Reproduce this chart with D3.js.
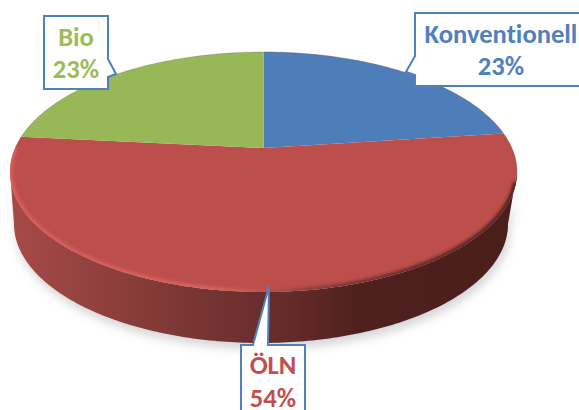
<!DOCTYPE html>
<html><head><meta charset="utf-8">
<script src="https://cdn.jsdelivr.net/npm/d3@7"></script>
<style>html,body{margin:0;padding:0;background:#fff}svg{display:block}
text{font-family:Carlito,Lato,"Open Sans","Noto Sans",sans-serif;font-weight:700;text-anchor:middle;font-variant-ligatures:none}</style>
</head><body><svg id="c" width="579" height="410"></svg>
<script>
const categories = ["Konventionell","ÖLN","Bio"];
const values = [22.9,53.6,23.4];
const labels = ["23%","54%","23%"];
const colors = ["#4f81bd","#c0504d","#9bbb59"];

const svg = d3.select("#c");
const defs = svg.append("defs");
const sx = d3.scaleLinear().domain([-1,1]).range([10,517]);
const sy = d3.scaleLinear().domain([-1,1]).range([52,292]);
const k = 0.2, q = Math.sqrt(1-k*k);
const proj = (a,r=1)=>{const u=r*Math.sin(a),v=-r*Math.cos(a),w=1-k*v;return [sx(u*q/w),sy((v-k)/w)];};
const line = d3.line();
const arcs = d3.pie().sort(null).value(d=>d)(values);
const wedge = d=>{const n=90,pts=d3.range(n+1).map(i=>proj(d.startAngle+(d.endAngle-d.startAngle)*i/n));return line([proj(0,0),...pts])+"Z";};
const rad = Math.PI/180;
const ellipse = (from,to,fx,fy)=>d3.range(from,to+1).map(i=>[fx(Math.cos(i*rad)),fy(Math.sin(i*rad))]);

const sbx = d3.scaleLinear().domain([-1,1]).range([14,508]);
const sby = d3.scaleLinear().domain([-1,1]).range([105,343]);
const sidePath = line([...ellipse(0,180,sx,sy).reverse(),...ellipse(0,180,sbx,sby)])+"Z";

const sg = defs.append("linearGradient").attr("id","side").attr("gradientUnits","userSpaceOnUse")
  .attr("x1",10).attr("x2",517).attr("y1",0).attr("y2",0);
[[0,"#a64a47"],[0.1,"#9a4542"],[0.25,"#873c39"],[0.42,"#723230"],[0.55,"#642b29"],[0.68,"#4f211e"],[1,"#4a1e1b"]]
  .forEach(s=>sg.append("stop").attr("offset",s[0]).attr("stop-color",s[1]));
const bg = defs.append("linearGradient").attr("id","bevel").attr("gradientUnits","userSpaceOnUse")
  .attr("x1",10).attr("x2",517).attr("y1",0).attr("y2",0);
[[0,"#d65e5a"],[0.4,"#d4625e"],[0.5,"#bd5450"],[0.6,"#8a3d3a"],[0.75,"#6a2e2b"],[1,"#4f211e"]]
  .forEach(s=>bg.append("stop").attr("offset",s[0]).attr("stop-color",s[1]));
defs.append("filter").attr("id","blur").attr("x","-10%").attr("y","-10%").attr("width","120%").attr("height","120%")
  .append("feGaussianBlur").attr("stdDeviation",5);
defs.append("filter").attr("id","soft").attr("x","-5%").attr("y","-5%").attr("width","110%").attr("height","110%")
  .append("feGaussianBlur").attr("stdDeviation",1.7);
defs.append("clipPath").attr("id","face").append("path").attr("d",line(ellipse(0,360,sx,sy))+"Z");

// ground shadow
svg.append("path").attr("d",sidePath).attr("fill","#c4c4c4").attr("opacity",0.7)
  .attr("transform","translate(2,6)").attr("filter","url(#blur)");
// side wall
svg.append("path").attr("d",sidePath).attr("fill","url(#side)");
// faces
svg.append("g").selectAll("path").data(arcs).join("path")
  .attr("d",wedge).attr("fill",(d,i)=>d3.color(colors[i]).darker(0.06));
// bevel inside the top face
svg.append("g").attr("clip-path","url(#face)").append("path")
  .attr("d",line(ellipse(5,192,sx,sy))).attr("fill","none").attr("stroke","url(#bevel)")
  .attr("stroke-width",6).attr("filter","url(#soft)");
// thin edge of the top face
svg.append("path").attr("d",line(ellipse(-90,5,sx,sy))).attr("fill","none")
  .attr("stroke","#5a4a48").attr("stroke-opacity",0.45).attr("stroke-width",0.8);
svg.append("path").attr("d",line(ellipse(192,270,sx,sy))).attr("fill","none")
  .attr("stroke","#5a4a48").attr("stroke-opacity",0.3).attr("stroke-width",0.8);

// callouts
const boxes = [
 {i:0,x:415,y:13,w:175,h:73,tip:[406,72],b1:[415,56],b2:[415,75],tx:501,ty:[43,75]},
 {i:1,x:241,y:345,w:64,h:80,tip:[269,286],b1:[253,345],b2:[268,345],tx:273,ty:[374,407]},
 {i:2,x:44,y:16,w:64,h:73,tip:[116,74],b1:[108,59],b2:[108,77],tx:76,ty:[46,78]}
];
boxes.forEach(b=>{
  let pts;
  if(b.i===0) pts=[[b.x,b.y],[b.x+b.w,b.y],[b.x+b.w,b.y+b.h],[b.x,b.y+b.h],b.b2,b.tip,b.b1];
  if(b.i===1) pts=[[b.x,b.y],b.b1,b.tip,b.b2,[b.x+b.w,b.y],[b.x+b.w,b.y+b.h],[b.x,b.y+b.h]];
  if(b.i===2) pts=[[b.x,b.y],[b.x+b.w,b.y],b.b1,b.tip,b.b2,[b.x+b.w,b.y+b.h],[b.x,b.y+b.h]];
  svg.append("path").attr("d",line(pts)+"Z").attr("fill","#fff").attr("stroke","#4f81bd").attr("stroke-width",2);
  [categories[b.i],labels[b.i]].forEach((t,j)=>svg.append("text").attr("x",b.tx).attr("y",b.ty[j])
    .attr("font-size",26.6).attr("fill",colors[b.i]).text(t));
});
</script></body></html>
